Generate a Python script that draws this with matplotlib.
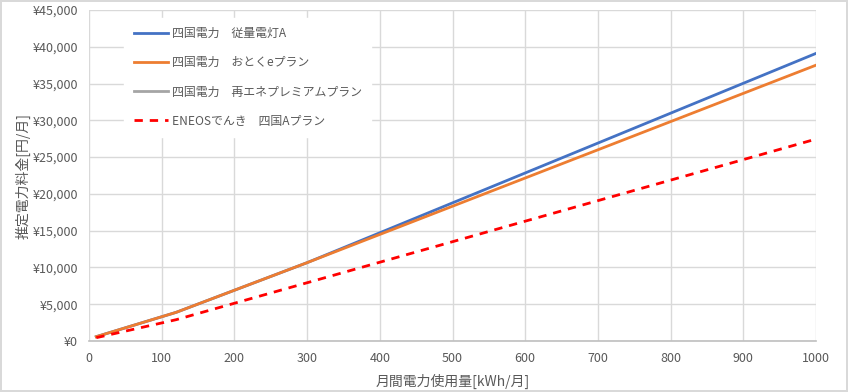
import matplotlib.pyplot as plt
from matplotlib.ticker import FuncFormatter

plt.rcParams['font.family'] = ['Noto Sans CJK JP', 'DejaVu Sans']

# kWh/month at the kink points of each tariff
usage = [10, 120, 300, 1000]
juryo_a = [590, 3900, 10650, 39100]        # 四国電力 従量電灯A
otoku_e = [590, 3900, 10650, 37500]        # 四国電力 おとくeプラン
sai_ene = []                               # 四国電力 再エネプレミアムプラン (not visible)
sai_ene_x = []
eneos_a = [450, 2900, 7920, 27450]         # ENEOSでんき 四国Aプラン

labels = ['四国電力　従量電灯A', '四国電力　おとくeプラン',
          '四国電力　再エネプレミアムプラン', 'ENEOSでんき　四国Aプラン']

text_color = '#595959'
grid_color = '#D9D9D9'

fig = plt.figure(figsize=(8.48, 3.92), dpi=100)
fig.patch.set_edgecolor('#D9D9D9')
fig.patch.set_linewidth(1.5)
ax = fig.add_axes([89 / 848, 1 - 341 / 392, 727 / 848, 331 / 392])

ax.plot(usage, juryo_a, color='#4472C4', lw=2, label=labels[0])
ax.plot(usage, otoku_e, color='#ED7D31', lw=2, label=labels[1])
ax.plot(sai_ene_x, sai_ene, color='#A5A5A5', lw=2, label=labels[2])
ax.plot(usage, eneos_a, color='#FF0000', lw=2, ls=(0, (3, 2.5)), label=labels[3])

ax.set_xlim(0, 1000)
ax.set_ylim(0, 45000)
ax.set_xticks(range(0, 1001, 100))
ax.set_yticks(range(0, 45001, 5000))
ax.yaxis.set_major_formatter(FuncFormatter(lambda v, p: f'¥{int(v):,}'))
ax.grid(True, color=grid_color, lw=1)
ax.set_axisbelow(True)
for s in ['top', 'right', 'left']:
    ax.spines[s].set_visible(False)
ax.spines['bottom'].set_color('#BFBFBF')
ax.spines['bottom'].set_linewidth(1.2)
ax.tick_params(length=0, colors=text_color, labelsize=9, pad=8)

ax.set_xlabel('月間電力使用量[kWh/月]', color=text_color, fontsize=10, labelpad=6)
ax.set_ylabel('推定電力料金[円/月]', color=text_color, fontsize=10, labelpad=1)

leg = ax.legend(loc='upper left', bbox_to_anchor=(0.04, 0.995), frameon=True,
                fancybox=False, edgecolor='white', framealpha=1,
                fontsize=8.6, labelcolor=text_color, handlelength=2.9,
                handletextpad=0.3, labelspacing=1.35, borderpad=0.8)

fig.savefig('out.png', dpi=100)
